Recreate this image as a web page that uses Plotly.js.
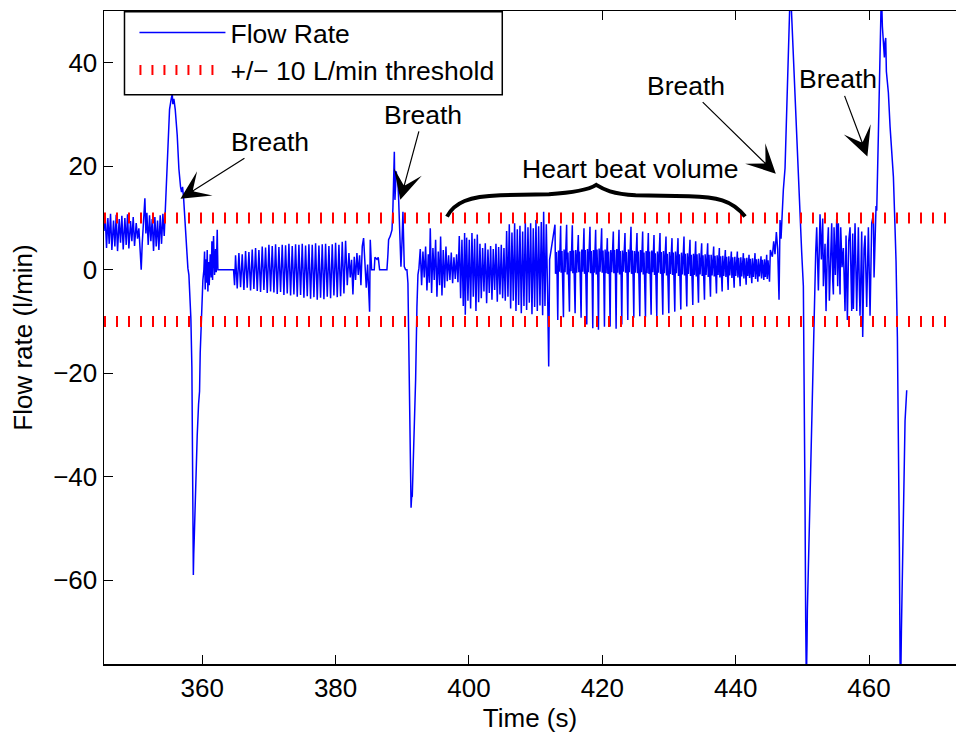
<!DOCTYPE html>
<html>
<head>
<meta charset="utf-8">
<script src="https://cdn.plot.ly/plotly-3.0.1.min.js"></script>
<style>html,body{margin:0;padding:0;background:#fff;}#chart{width:956px;height:735px;}</style>
</head>
<body>
<div id="chart"></div>
<script>
// ---- Data (time in s, flow in l/min) ----
// Resting oscillation before first breath
const timeRest1 = [345.27,345.45,345.65,345.85,346.05,346.25,346.45,346.7,346.9,347.1,347.3,347.55,347.75,347.95,348.15,348.4,348.6,348.8,349.0,349.25,349.45,349.65,349.85,350.1,350.3,350.5,350.7,350.85,351.0,351.2,351.4,351.55,351.7,351.9,352.1,352.3,352.5,352.7,352.9,353.1,353.3,353.5,353.7,353.9,354.1,354.3];
const flowRest1 = [7.5,10.5,4.2,10.0,5.0,10.8,3.8,9.5,4.5,10.6,3.6,9.8,5.2,10.4,3.9,10.0,4.8,10.7,4.1,9.4,5.5,10.2,4.6,9.0,6.0,8.0,3.5,0.0,5.0,9.0,13.8,7.0,11.0,4.8,10.5,5.5,9.8,3.6,10.2,4.5,9.5,3.8,10.5,5.0,10.8,6.5];
// First breath
const timeBreath1 = [354.5,354.75,355.1,355.35,355.5,355.6,355.75,355.95,356.1,356.25,356.5,356.6,356.75,356.9,357.05,357.2,357.35,357.5,357.7,357.85,358.0,358.1,358.3,358.45,358.55,358.62,358.67,358.73,358.8,358.9,359.05,359.25,359.45,359.6,359.7,359.8,359.95,360.1,360.25];
const flowBreath1 = [12.5,23.0,31.0,33.0,34.0,32.0,33.0,31.0,29.0,26.0,19.5,17.0,16.0,15.0,16.0,14.0,10.5,7.0,4.0,0.3,-1.0,-4.0,-9.5,-19.0,-40.0,-53.0,-59.0,-55.0,-52.0,-47.0,-40.0,-32.0,-26.0,-23.5,-16.0,-11.5,-6.0,-2.0,0.0];
// Short pause and low oscillation
const timeRest2 = [360.35,360.45,360.55,360.65,360.75,360.85,360.95,361.05,361.2,361.35,361.45,361.55,361.7,361.85,362.0,362.1,362.25,362.35,364.6,364.7,364.85,365.0,365.25,365.5,365.75,366.0,366.25,366.5,366.75,367.0,367.25,367.5,367.75,368.0,368.25,368.5,368.75,369.0,369.25,369.5,369.75,370.0,370.25,370.5,370.75,371.0,371.25,371.5,371.75,372.0,372.25,372.5,372.75,373.0,373.25,373.5,373.75,374.0,374.25,374.5,374.75,375.0,375.25,375.5,375.75,376.0,376.25,376.5,376.75,377.0,377.25,377.5,377.75,378.0,378.25,378.5,378.75,379.0,379.25,379.5,379.75,380.0,380.25,380.5,380.75,381.0,381.25,381.5,381.75,382.0,382.2,382.4,382.6,382.8,383.0,383.2,383.4,383.6,383.8,384.0,384.2,384.4,384.6,384.8,385.1,385.2,385.4,385.8,385.9,386.2,386.4,386.6,387.7];
const flowRest2 = [3.5,-3.8,2.0,-2.5,3.8,-4.2,1.5,-3.0,3.0,-1.5,5.5,-2.0,6.5,-1.0,4.0,-0.5,7.7,0.0,0.0,0.0,-3.0,2.8,-3.6,3.2,-3.4,3.0,-3.9,3.6,-3.5,3.4,-4.0,3.9,-3.7,4.2,-4.1,3.8,-4.3,4.5,-3.9,4.3,-4.5,4.8,-4.2,4.6,-4.4,4.9,-4.7,4.4,-4.3,4.8,-4.9,4.7,-4.6,5.0,-5.0,4.6,-4.8,4.9,-5.2,4.8,-4.9,5.0,-5.4,4.7,-5.1,4.9,-5.6,4.8,-5.3,5.1,-5.8,4.7,-5.4,4.9,-5.7,5.0,-5.2,4.6,-5.5,4.9,-5.0,5.2,-5.3,4.8,-5.1,5.4,-4.6,5.6,-3.0,3.2,-1.5,1.9,-4.8,2.5,-2.0,3.2,-1.0,2.8,-3.0,4.5,6.1,0.5,-3.5,1.0,-8.1,5.8,0.0,0.0,2.4,2.0,2.4,0.0,0.0];
// Second breath
const timeBreath2 = [387.85,387.95,388.2,388.46,388.6,388.7,388.81,388.9,389.0,389.1,389.2,389.3,389.45,389.6,389.8,389.95,390.1,390.2,390.3,390.5,390.7,390.85,390.95,391.1,391.25,391.32,391.4,391.5,391.7,391.85,392.0,392.2,392.35,392.5];
const flowBreath2 = [3.0,5.8,6.5,7.7,12.0,18.0,22.8,13.5,17.0,19.0,17.5,18.0,13.8,6.4,0.6,5.0,11.2,6.0,0.6,0.0,0.0,-2.6,-10.9,-27.7,-40.6,-46.0,-44.0,-43.8,-36.0,-28.0,-21.3,-7.1,-1.0,0.3];
// Heart beat volume, first part
const timeHeart1 = [392.7,392.9,393.1,393.3,393.5,393.7,393.9,394.05,394.2,394.4,394.6,394.8,395.0,395.2,395.4,395.6,395.75,395.95,396.15,396.35,396.55,396.75,396.95,397.15,397.35,397.55,397.75,397.95,398.15,398.35,398.55,398.75,398.95,399.15,399.35,399.45,399.65,399.85,400.05,400.25,400.45,400.65,400.85,401.05,401.25,401.45,401.65,401.85,402.05,402.25,402.45,402.65,402.85,403.05,403.25,403.45,403.65,403.85,404.05,404.25,404.45,404.65,404.85,405.05,405.25,405.45,405.65,405.85,406.05,406.25,406.45,406.65,406.85,407.05,407.25,407.45,407.65,407.85,408.05,408.25,408.45,408.65,408.85,409.05,409.25,409.45,409.65,409.85,410.05,410.25,410.45,410.65,410.85,411.05,411.2,411.4,411.6,411.8,411.96,412.1];
const flowHeart1 = [4.0,-3.0,3.5,-1.5,4.5,-4.0,3.0,-2.5,8.0,-4.5,4.2,-2.0,5.8,-5.2,3.5,-3.0,6.4,-5.0,3.8,-3.5,4.5,-2.2,2.8,-2.0,3.3,-2.6,2.4,-1.8,3.0,-2.4,6.5,-5.5,5.8,-7.0,7.1,-8.7,6.2,-6.0,5.8,-7.5,7.1,-5.2,6.0,-8.0,6.8,-6.3,5.0,-5.5,4.2,-4.2,5.1,-6.5,3.9,-4.5,4.6,-5.8,4.0,-3.9,5.0,-6.2,4.4,-4.8,4.8,-5.5,4.2,-6.0,7.5,-5.2,8.8,-7.5,7.2,-6.0,9.0,-8.0,7.8,-6.8,8.5,-8.4,7.4,-7.0,9.3,-7.8,8.2,-6.4,9.0,-8.6,8.0,-7.2,9.6,-8.0,8.4,-6.9,9.2,-8.8,11.2,-7.0,8.8,-5.0,-18.7,2.0];
// Heart beat volume, second part (one row per beat)
const timeHeart2 = [
412.9,412.98,413.1,413.22,413.32,413.42,413.56,
413.75,413.83,413.95,414.07,414.17,414.27,414.41,
414.65,414.73,414.85,414.97,415.07,415.17,415.31,
415.5,415.58,415.7,415.82,415.92,416.02,416.16,
416.4,416.48,416.6,416.72,416.82,416.92,417.06,
417.25,417.33,417.45,417.57,417.67,417.77,417.91,
418.15,418.23,418.35,418.47,418.57,418.67,418.81,
419.0,419.08,419.2,419.32,419.42,419.52,419.66,
419.9,419.98,420.1,420.22,420.32,420.42,420.56,
420.75,420.83,420.95,421.07,421.17,421.27,421.41,
421.65,421.73,421.85,421.97,422.07,422.17,422.31,
422.5,422.58,422.7,422.82,422.92,423.02,423.16,
423.4,423.48,423.6,423.72,423.82,423.92,424.06,
424.3,424.38,424.5,424.62,424.72,424.82,424.96,
425.2,425.28,425.4,425.52,425.62,425.72,425.86,
426.05,426.13,426.25,426.37,426.47,426.57,426.71,
426.9,426.98,427.1,427.22,427.32,427.42,427.56,
427.75,427.83,427.95,428.07,428.17,428.27,428.41,
428.65,428.73,428.85,428.97,429.07,429.17,429.31,
429.55,429.63,429.75,429.87,429.97,430.07,430.21,
430.45,430.53,430.65,430.77,430.87,430.97,431.11,
431.35,431.43,431.55,431.67,431.77,431.87,432.01,
432.25,432.33,432.45,432.57,432.67,432.77,432.91,
433.15,433.23,433.35,433.47,433.57,433.67,433.81,
434.0,434.08,434.2,434.32,434.42,434.52,434.66,
434.9,434.98,435.1,435.22,435.32,435.42,435.56,
435.8,435.88,436.0,436.12,436.22,436.32,436.46,
436.7,436.78,436.9,437.02,437.12,437.22,437.36,
437.55,437.63,437.75,437.87,437.97,438.07,438.21,
438.45,438.53,438.65,438.77,438.87,438.97,439.11,
439.35,439.43,439.55,439.67,439.77,439.87,440.01,
440.25,440.33,440.45,440.57,440.67,440.77,440.91,
441.15,441.23,441.35,441.47,441.57,441.67,441.81,
442.0,442.08,442.2,442.32,442.42,442.52,442.66,
442.9,442.98,443.1,443.22,443.32,443.42,443.56,
443.8,443.88,444.0,444.12,444.22,444.32,444.46,
444.65,444.73,444.85,444.97,445.07];
const flowHeart2 = [
8.7,-0.8,3.4,-1.2,-9.7,3.7,-0.4,
8.5,-0.6,3.6,-1.4,-9.2,3.9,-0.5,
8.7,-0.9,3.3,-1.1,-8.1,3.6,-0.3,
8.6,-0.7,3.7,-1.3,-8.4,3.8,-0.6,
6.7,-0.5,3.5,-1.2,-9.3,3.9,-0.4,
8.0,-0.8,3.8,-1.4,-10.6,4.0,-0.5,
8.3,-0.7,3.6,-1.1,-11.3,3.8,-0.6,
7.7,-0.9,3.9,-1.3,-11.6,4.1,-0.4,
8.0,-0.6,3.7,-1.2,-11.0,3.9,-0.7,
6.1,-0.8,3.5,-1.4,-11.0,3.8,-0.5,
7.4,-0.7,3.8,-1.1,-11.4,4.0,-0.6,
7.7,-0.9,3.6,-1.3,-10.6,3.7,-0.4,
7.1,-0.6,3.4,-1.2,-9.7,3.9,-0.5,
8.3,-0.8,3.7,-1.4,-9.3,3.6,-0.6,
7.1,-0.7,3.5,-1.1,-9.0,3.8,-0.5,
7.4,-0.9,3.3,-1.3,-9.2,3.6,-0.7,
7.1,-0.8,3.5,-1.4,-8.7,3.7,-0.5,
6.7,-1.0,3.2,-1.2,-9.0,3.5,-0.6,
7.1,-0.8,3.4,-1.5,-8.7,3.6,-0.7,
6.4,-1.1,3.1,-1.3,-8.4,3.4,-0.8,
6.1,-1.0,3.3,-1.5,-8.1,3.5,-0.7,
6.1,-1.2,3.0,-1.4,-7.7,3.3,-0.9,
6.4,-1.1,3.1,-1.6,-7.1,3.2,-0.8,
5.8,-1.2,2.9,-1.5,-6.8,3.1,-1.0,
5.5,-1.3,3.0,-1.4,-6.4,3.2,-0.9,
5.1,-1.2,2.8,-1.6,-5.8,3.0,-1.0,
5.1,-1.4,2.9,-1.5,-5.2,2.9,-1.1,
4.5,-1.3,2.7,-1.7,-4.6,2.8,-1.0,
4.2,-1.5,2.6,-1.6,-4.2,2.7,-1.2,
3.8,-1.4,2.5,-1.8,-3.9,2.6,-1.1,
3.5,-1.6,2.4,-1.7,-3.5,2.5,-1.2,
3.5,-1.5,2.3,-1.9,-3.2,2.4,-1.3,
3.2,-1.7,2.2,-1.8,-2.9,2.3,-1.2,
2.9,-1.6,2.1,-1.9,-2.6,2.2,-1.4,
3.2,-1.8,2.0,-1.7,-2.3,2.1,-1.3,
2.6,-1.7,1.9,-1.8,-2.0,2.0,-1.4,
2.9,-1.8,1.8,-1.7,-2.3];
// Third breath
const timeBreath3 = [445.2,445.5,445.7,445.9,446.1,446.3,446.5,446.65,446.8,447.0,447.15,447.4,447.6,447.76,447.9,448.06,448.2,448.3,448.4,448.65,448.9,449.15,449.4,449.66,449.9,450.15,450.3,450.4,450.5,450.6,450.7,450.75,451.05,451.4,451.65,451.8,452.0];
const flowBreath3 = [3.8,2.5,5.5,3.0,7.3,4.0,-5.8,9.6,6.0,12.2,15.5,19.6,28.0,35.8,44.0,52.0,55.0,52.0,48.9,42.4,31.8,25.0,19.6,9.8,3.3,-3.2,-21.1,-45.4,-68.0,-80.0,-72.0,-65.7,-49.5,-29.2,-17.0,-3.2,3.3];
// Oscillation between third and fourth breath
const timeRest3 = [452.15,452.4,452.65,452.85,453.05,453.15,453.4,453.55,453.75,453.9,454.05,454.25,454.4,454.55,454.65,454.75,454.95,455.15,455.3,455.4,455.55,455.65,455.75,455.95,456.15,456.4,456.55,456.65,456.75,456.95,457.15,457.4,457.55,457.65,457.9,458.15,458.4,458.55,458.65,458.9,459.05,459.25,459.4,459.65,459.9,460.15,460.4,460.65,460.75,461.05];
const flowRest3 = [8.2,-4.0,10.7,2.0,9.9,-3.2,5.0,-8.0,4.0,8.2,-6.0,3.0,9.0,-2.0,-4.8,8.2,-1.0,9.9,-3.2,9.0,-2.5,-4.8,8.2,0.5,4.2,-8.0,6.6,-5.0,-9.7,5.5,8.2,-8.0,7.0,-7.6,9.0,-8.0,8.2,-4.0,-8.9,7.4,-13.0,4.0,6.6,-7.2,8.2,-8.9,9.0,10.7,-1.5,12.3];
// Fourth breath
const timeBreath4 = [461.15,461.4,461.55,461.65,461.75,461.85,462.0,462.15,462.3,462.4,462.5,462.6,462.9,463.15,463.4,463.65,463.85,464.05,464.25,464.4,464.55,464.65,464.75,464.85,464.9,465.15,465.4,465.65];
const flowBreath4 = [11.4,26.2,38.0,46.0,52.0,54.0,47.0,44.8,41.0,44.0,44.8,38.3,34.2,27.7,22.5,18.0,10.0,1.6,-13.0,-29.2,-53.6,-75.5,-80.0,-70.0,-65.7,-45.4,-29.2,-23.3];

const thresholdLevels = [10, -10];
const xTicks = [360, 380, 400, 420, 440, 460];
const yTicks = [-60, -40, -20, 0, 20, 40];

// ---- Assemble ----
const timeAll = [].concat(timeRest1, timeBreath1, timeRest2, timeBreath2, timeHeart1, timeHeart2, timeBreath3, timeRest3, timeBreath4);
const flowAll = [].concat(flowRest1, flowBreath1, flowRest2, flowBreath2, flowHeart1, flowHeart2, flowBreath3, flowRest3, flowBreath4);

const X_RANGE = [345.27, 473.04];
const Y_RANGE = [-76.2, 50];
const FONT = 'Liberation Sans, Arial, Helvetica, sans-serif';

const thrX = [X_RANGE[0], X_RANGE[1], null, X_RANGE[0], X_RANGE[1]];
const thrY = [thresholdLevels[0], thresholdLevels[0], null, thresholdLevels[1], thresholdLevels[1]];

const traces = [
  {x: timeAll, y: flowAll, type: 'scatter', mode: 'lines', name: 'Flow Rate',
   line: {color: '#0000ff', width: 1.5}},
  {x: thrX, y: thrY, type: 'scatter', mode: 'lines', name: '+/\u2212 10 L/min threshold',
   connectgaps: false, line: {color: '#ff0000', width: 11, dash: '2px,10px'}}
];

const arrowCommon = {xref: 'x', yref: 'y', axref: 'pixel', ayref: 'pixel', showarrow: true,
  arrowhead: 3, arrowsize: 4, arrowwidth: 1.2, arrowcolor: '#000',
  font: {family: FONT, size: 26.5, color: '#000'}, text: 'Breath'};

const layout = {
  width: 956, height: 735,
  margin: {l: 103.5, r: 0, t: 11.2, b: 70.5},
  paper_bgcolor: '#fff', plot_bgcolor: '#fff',
  showlegend: true,
  font: {family: FONT, size: 26, color: '#000'},
  xaxis: {range: X_RANGE, tickvals: xTicks, ticks: 'inside', ticklen: 9, tickwidth: 1, tickcolor: '#000',
    showline: true, linecolor: '#000', linewidth: 1.5, mirror: 'ticks', showgrid: false, zeroline: false,
    tickfont: {family: FONT, size: 26, color: '#000'},
    title: {text: 'Time (s)', font: {family: FONT, size: 26, color: '#000'}, standoff: 3}, automargin: false},
  yaxis: {range: Y_RANGE, tickvals: yTicks, ticks: 'inside', ticklen: 9, tickwidth: 1, tickcolor: '#000',
    showline: true, linecolor: '#000', linewidth: 1.5, mirror: false, showgrid: false, zeroline: false,
    tickfont: {family: FONT, size: 26, color: '#000'},
    title: {text: 'Flow rate (l/min)', font: {family: FONT, size: 26, color: '#000'}, standoff: 13}, automargin: false},
  legend: {x: 0.024, y: 1.0034, xanchor: 'left', yanchor: 'top', bgcolor: 'rgba(0,0,0,0)', borderwidth: 0,
    font: {family: FONT, size: 26.5, color: '#000'}, itemwidth: 86, indentation: 10, traceorder: 'normal'},
  annotations: [
    Object.assign({}, arrowCommon, {x: 356.74, y: 13.7, ax: 90, ay: -57}),
    Object.assign({}, arrowCommon, {x: 389.71, y: 13.5, ax: 23, ay: -85}),
    Object.assign({}, arrowCommon, {x: 446.02, y: 18.57, ax: -90, ay: -88}),
    Object.assign({}, arrowCommon, {x: 459.75, y: 21.9, ax: -29, ay: -77}),
    {xref: 'x', yref: 'y', x: 424.26, y: 19.48, showarrow: false, text: 'Heart beat volume',
     font: {family: FONT, size: 26.5, color: '#000'}}
  ],
  shapes: [
    // legend frame
    {type: 'rect', xref: 'paper', yref: 'paper', layer: 'above',
     x0: 0.02405, x1: 0.46745, y0: 0.8717, y1: 0.9988,
     fillcolor: '#fff', line: {color: '#000', width: 1.5}},
    // curly brace
    {type: 'path', xref: 'x', yref: 'y', layer: 'above',
     path: 'M396.71,10.27 C397.8,13.0 400,14.2 404.7,14.4 L412,14.6 C416,14.9 418,15.5 419.09,16.39 C420.2,15.5 421.5,14.6 425,14.4 L433,14.2 C437,14.1 439.5,13.5 441.41,10.27',
     line: {color: '#000', width: 4}}
  ]
};

Plotly.newPlot('chart', traces, layout, {staticPlot: true, displayModeBar: false}).then(function (gd) {
  // shorten the dotted legend sample a little so it stops before its label, as in the reference
  const items = gd.querySelectorAll('.legend .traces');
  if (items.length > 1) {
    const p = items[1].querySelector('path.js-line');
    if (p) {
      const d = p.getAttribute('d') || '';
      const m = d.match(/^M([-\d.]+),([-\d.]+)h([-\d.]+)$/);
      if (m) p.setAttribute('d', 'M' + m[1] + ',' + m[2] + 'h74');
      else {
        const m2 = d.match(/^M([-\d.]+),([-\d.]+)L([-\d.]+),([-\d.]+)$/);
        if (m2) p.setAttribute('d', 'M' + m2[1] + ',' + m2[2] + 'L' + (parseFloat(m2[1]) + 74) + ',' + m2[4]);
      }
    }
  }
});
</script>
</body>
</html>
